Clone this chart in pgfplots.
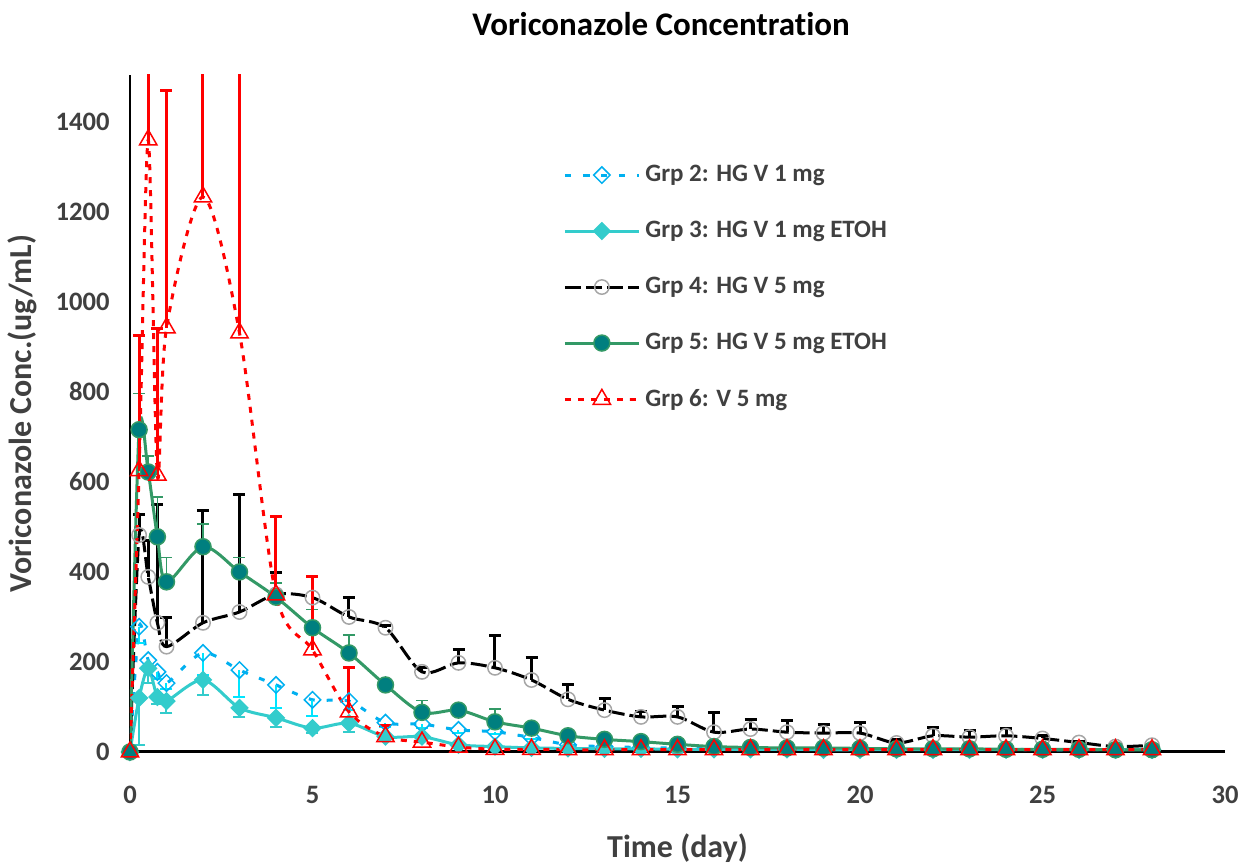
\documentclass[border=0pt]{standalone}
\usepackage{fontspec}
\setmainfont{Carlito}[Ligatures={NoCommon}]
\usepackage{pgfplots}
\pgfplotsset{compat=1.18}
\usepackage{pgfplotstable}

\definecolor{cA}{HTML}{00B0F0}
\definecolor{cAe}{HTML}{00E5FF}
\definecolor{cB}{HTML}{33CCCC}
\definecolor{cCm}{HTML}{A6A6A6}
\definecolor{cD}{HTML}{339966}
\definecolor{cDm}{HTML}{007F7F}
\definecolor{cE}{HTML}{FF0000}
\definecolor{txt}{HTML}{404040}

\pgfplotstableread{
x y e
0 0 0
0.25 278 36
0.5 204 20
0.75 178 15
1 153 12
2 220 50
3 182 59
4 149 52
5 116 36
6 113 20
7 65 10
8 62 8
9 49 6
10 45 5
11 32 4
12 16 3
13 12 2
14 10 2
15 9 1
16 8 1
17 8 1
18 7 1
19 7 1
20 7 1
21 6 1
22 6 1
23 6 1
24 6 1
25 5 1
26 5 1
27 5 1
28 5 1
}\grpA

\pgfplotstableread{
x y e
0 0 0
0.25 120 104
0.5 186 33
0.75 122 15
1 113 26
2 160 33
3 98 20
4 76 20
5 53 10
6 64 19
7 34 8
8 34 5
9 16 3
10 12 2
11 9 1
12 8 1
13 7 1
14 7 1
15 6 1
16 6 1
17 6 1
18 6 1
19 5 1
20 5 1
21 5 1
22 5 1
23 5 1
24 5 1
25 5 1
26 5 1
27 5 1
28 5 1
}\grpB

\pgfplotstableread{
x y e
0 0 0
0.25 482 45
0.5 389 80
0.75 287 262
1 234 64
2 287 249
3 311 262
4 350 48
5 343 46
6 300 44
7 276 6
8 178 9
9 198 29
10 187 71
11 160 49
12 117 34
13 93 25
14 78 11
15 78 22
16 44 43
17 51 22
18 44 25
19 42 20
20 42 23
21 20 8
22 36 19
23 33 14
24 36 16
25 30 6
26 21 3
27 12 3
28 15 2
}\grpC

\pgfplotstableread{
x y e
0 0 0
0.25 716 80
0.5 622 36
0.75 478 89
1 378 54
2 456 51
3 400 32
4 344 31
5 276 40
6 220 40
7 149 5
8 88 26
9 93 12
10 67 28
11 53 5
12 36 3
13 28 2
14 23 2
15 17 2
16 12 2
17 10 1
18 9 1
19 9 1
20 8 1
21 7 1
22 7 1
23 7 1
24 6 1
25 6 1
26 6 1
27 5 1
28 5 1
}\grpD

\pgfplotstableread{
x y e
0 0 0
0.25 625 300
0.5 1360 500
0.75 615 325
1 942 527
2 1233 600
3 931 700
4 349 174
5 227 162
6 89 98
7 34 24
8 22 5
9 11 2
10 6 1
11 6 1
12 5 1
13 5 1
14 5 1
15 5 1
16 5 1
17 5 1
18 5 1
19 5 1
20 5 1
21 5 1
22 5 1
23 5 1
24 5 1
25 5 1
26 5 1
27 5 1
28 5 1
}\grpE

\begin{document}
\begin{tikzpicture}
\begin{axis}[
  name=ax,
  scale only axis,
  width=547.5pt, height=338.5pt,
  xmin=0, xmax=30, ymin=0, ymax=1504,
  axis lines=left,
  axis line style={-},
  x axis line style={line width=1.5pt},
  y axis line style={line width=1pt},
  major tick length=0pt,
  xtick={0,5,...,30},
  ytick={0,200,...,1400},
  /pgf/number format/assume math mode=true,
  /pgf/number format/1000 sep={},
  tick label style={font=\fontsize{13.3pt}{15pt}\selectfont\bfseries, text=txt},
  xticklabel style={anchor=center, inner sep=0pt, yshift=-21.5pt},
  yticklabel style={anchor=east, inner sep=0pt, xshift=-10pt},
  title={Voriconazole Concentration},
  title style={at={(axis description cs:0.485,1.058)}, anchor=center, font=\fontsize{16.5pt}{19pt}\selectfont\bfseries},
  xlabel={Time (day)},
  xlabel style={at={(axis description cs:0.5,-0.142)}, anchor=center, font=\fontsize{16pt}{19pt}\selectfont\bfseries, text=txt},
  ylabel={Voriconazole Conc.(ug/mL)},
  ylabel style={at={(axis description cs:-0.0986,0.5)}, rotate=0, anchor=center, font=\fontsize{16pt}{19pt}\selectfont\bfseries, text=txt},
  legend style={draw=none, fill=none, at={(axis description cs:0.3954,0.8671)}, anchor=north west,
    font=\fontsize{12.5pt}{15pt}\selectfont\bfseries, text=txt, row sep=18.3pt, inner sep=0pt,
    nodes={inner sep=0pt}, column sep=2.5pt},
  legend cell align=left,
  legend image code/.code={\draw[mark repeat=2,mark phase=2,#1] plot coordinates {(0pt,0pt) (18.5pt,0pt) (37pt,0pt)};},
  every axis plot/.append style={line width=1.5pt},
]
\addplot[color=cA, dash pattern=on 3pt off 6pt, smooth, mark=square, mark size=2.9pt,
  mark options={solid, rotate=45, draw=cA, line width=0.75pt},
  error bars/.cd, y dir=minus, y explicit,
  error bar style={solid, line width=1pt, color=cAe},
  error mark options={rotate=90, solid, line width=1pt, mark size=3pt, color=cAe}]
  table[x=x, y=y, y error=e] {\grpA};
\addlegendentry{Grp 2: HG V 1 mg}
\addplot[color=cB, solid, smooth, mark=square*, mark size=2.9pt,
  mark options={solid, rotate=45, draw=cB, fill=cB, line width=0.75pt},
  error bars/.cd, y dir=minus, y explicit,
  error bar style={solid, line width=1pt, color=cB},
  error mark options={rotate=90, solid, line width=1pt, mark size=3pt, color=cB}]
  table[x=x, y=y, y error=e] {\grpB};
\addlegendentry{Grp 3: HG V 1 mg ETOH}
\addplot[color=black, dash pattern=on 8pt off 2.5pt, smooth, mark=o, mark size=3.6pt,
  mark options={solid, draw=cCm, line width=0.75pt},
  error bars/.cd, y dir=plus, y explicit,
  error bar style={solid, line width=1.5pt, color=black},
  error mark options={rotate=90, solid, line width=1.5pt, mark size=3pt, color=black}]
  table[x=x, y=y, y error=e] {\grpC};
\addlegendentry{Grp 4: HG V 5 mg}
\addplot[color=cD, solid, smooth, mark=*, mark size=4pt,
  mark options={solid, draw=cD, fill=cDm, line width=0.75pt},
  error bars/.cd, y dir=plus, y explicit,
  error bar style={solid, line width=0.75pt, color=cD},
  error mark options={rotate=90, solid, line width=0.75pt, mark size=3pt, color=cD}]
  table[x=x, y=y, y error=e] {\grpD};
\addlegendentry{Grp 5: HG V 5 mg ETOH}
\addplot[color=cE, dash pattern=on 3pt off 3.5pt, smooth, mark=triangle, mark size=5pt,
  mark options={solid, draw=cE, line width=0.75pt},
  error bars/.cd, y dir=plus, y explicit,
  error bar style={solid, line width=1.5pt, color=cE},
  error mark options={rotate=90, solid, line width=1.5pt, mark size=3pt, color=cE}]
  table[x=x, y=y, y error=e] {\grpE};
\addlegendentry{Grp 6: V 5 mg}
\end{axis}
\pgfresetboundingbox
\path[use as bounding box] ([xshift=-65pt, yshift=-56.5pt]ax.south west) rectangle ++(622pt,432.5pt);
\end{tikzpicture}
\end{document}
